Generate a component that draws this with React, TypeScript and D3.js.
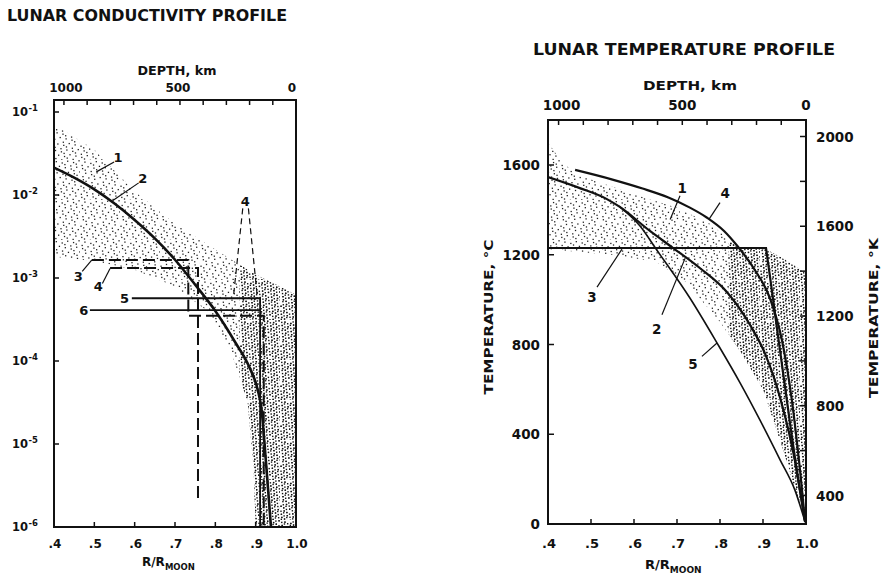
import React from 'react';
import * as d3 from 'd3';

// ---------------- data ----------------
const MOON_RADIUS_KM = 1738;
const radiusTicks = [0.4, 0.5, 0.6, 0.7, 0.8, 0.9, 1.0];
const radiusTickLabels = ['.4', '.5', '.6', '.7', '.8', '.9', '1.0'];
const depthTicks = [1000, 900, 800, 700, 600, 500, 400, 300, 200, 100, 0];
const depthLabels = [1000, 500, 0];
const conductivityDecades = [1e-1, 1e-2, 1e-3, 1e-4, 1e-5, 1e-6];
const conductivityExponents = ['-1', '-2', '-3', '-4', '-5', '-6'];
const celsiusTicks = [0, 400, 800, 1200, 1600];
const kelvinTicks = [400, 600, 800, 1000, 1200, 1400, 1600, 1800, 2000];
const kelvinLabels = [400, 800, 1200, 1600, 2000];

type P = [number, number];

// conductivity (mho/m) versus R/R_moon
const condBandUpper: P[] = [[0.4, 7.1e-2], [0.5, 3.5e-2], [0.6, 1.1e-2], [0.7, 4.5e-3], [0.8, 2.2e-3], [0.9, 1.1e-3], [0.96, 7.9e-4], [1.0, 6.3e-4]];
const condBandLower: P[] = [[0.4, 1.8e-3], [0.5, 1.6e-3], [0.6, 1.26e-3], [0.7, 7.9e-4], [0.78, 4e-4], [0.84, 1.26e-4], [0.88, 3.2e-5], [0.895, 5e-6], [0.9, 1e-6]];
const condCurve2: P[] = [[0.4, 2.14e-2], [0.45, 1.62e-2], [0.5, 1.17e-2], [0.55, 7.9e-3], [0.6, 5e-3], [0.65, 3e-3], [0.7, 1.66e-3], [0.75, 8.3e-4], [0.8, 4e-4], [0.85, 1.66e-4], [0.884, 8.5e-5], [0.905, 4.5e-5], [0.915, 2.5e-5], [0.922, 1e-5], [0.93, 3.2e-6], [0.938, 1e-6]];
const condModel3: P[] = [[0.494, 1.65e-3], [0.733, 1.65e-3], [0.733, 3.5e-4], [0.92, 3.5e-4], [0.92, 1e-6]];
const condModel4: P[] = [[0.539, 1.32e-3], [0.757, 1.32e-3], [0.757, 2.1e-6]];
const condModel5: P[] = [[0.593, 5.7e-4], [0.911, 5.7e-4], [0.911, 1e-6]];
const condModel6: P[] = [[0.489, 4.1e-4], [0.911, 4.1e-4]];

// temperature (deg C) versus R/R_moon
const tempBandUpper: P[] = [[0.4, 1700], [0.43, 1620], [0.464, 1560], [0.6, 1470], [0.7, 1410], [0.78, 1335], [0.84, 1235], [0.907, 1225], [0.95, 1180], [1.0, 1120]];
const tempBandLower: P[] = [[0.4, 1225], [0.55, 1200], [0.65, 1170], [0.72, 1080], [0.8, 900], [0.85, 760], [0.9, 600], [0.93, 430], [0.96, 250], [0.98, 120], [1.0, 60]];
const tempCurve2: P[] = [[0.4, 1546], [0.474, 1497], [0.537, 1448], [0.567, 1413], [0.637, 1306], [0.691, 1230], [0.753, 1141], [0.816, 1034], [0.87, 887], [0.905, 758], [0.94, 561], [0.974, 285], [0.998, 9]];
const tempCurve3: P[] = [[0.4, 1230], [0.907, 1230], [0.919, 1065], [0.933, 865], [0.949, 642], [0.965, 419], [0.981, 205], [0.998, 9]];
const tempCurve4: P[] = [[0.463, 1578], [0.55, 1535], [0.62, 1495], [0.68, 1455], [0.73, 1410], [0.77, 1365], [0.81, 1305], [0.84, 1240], [0.881, 1132], [0.916, 1007], [0.944, 820], [0.967, 553], [0.986, 241], [0.998, 9]];
const tempCurve5: P[] = [[0.567, 1413], [0.614, 1328], [0.653, 1221], [0.73, 1007], [0.793, 807], [0.847, 628], [0.893, 463], [0.94, 285], [0.974, 152], [0.998, 9]];

// ---------------- helpers ----------------
const FONT = '"DejaVu Sans", sans-serif';

function stippleDots(n: number, size: number): P[] {
  return d3.range(n).map((i) => [
    ((0.5 + (i + 1) * 0.7548776662) % 1) * size,
    ((0.5 + (i + 1) * 0.569840291) % 1) * size,
  ]);
}

export default function App() {
  const W = 882;
  const H = 581;

  // left panel
  const xL = d3.scaleLinear().domain([0.4, 1.0]).range([54, 296]);
  const yL = d3.scaleLog().domain([1e-6, 1e-1]).range([527, 112]);
  const dL = d3.scaleLinear().domain([MOON_RADIUS_KM * 0.6, 0]).range([54, 296]);
  const topL = 100;
  const botL = 527;

  // right panel
  const xR = d3.scaleLinear().domain([0.4, 1.0]).range([548, 806]);
  const yR = d3.scaleLinear().domain([0, 1600]).range([524, 165]);
  const dR = d3.scaleLinear().domain([MOON_RADIUS_KM * 0.6, 0]).range([548, 806]);
  const topR = 120;
  const botR = 524;

  const lineL = d3.line<P>().x((d) => xL(d[0])).y((d) => yL(d[1]));
  const curveL = d3.line<P>().x((d) => xL(d[0])).y((d) => yL(d[1])).curve(d3.curveMonotoneX);
  const lineR = d3.line<P>().x((d) => xR(d[0])).y((d) => yR(d[1]));
  const curveR = d3.line<P>().x((d) => xR(d[0])).y((d) => yR(d[1])).curve(d3.curveMonotoneX);

  const bandL: P[] = [...condBandUpper, [1.0, 1e-6], ...condBandLower.slice().reverse()];
  const bandR: P[] = [...tempBandUpper, ...tempBandLower.slice().reverse()];

  const lightDots = stippleDots(85, 40);
  const denseDots = stippleDots(190, 40);

  const ink = '#111';

  const leader = (x1: number, y1: number, x2: number, y2: number, dash?: string) => (
    <line x1={x1} y1={y1} x2={x2} y2={y2} stroke={ink} strokeWidth={1.2} strokeDasharray={dash} />
  );

  return (
    <svg width={W} height={H} style={{ position: 'absolute', left: 0, top: 0, background: '#fff' }} fontFamily={FONT}>
      <defs>
        <pattern id="stipLight" width={40} height={40} patternUnits="userSpaceOnUse">
          {lightDots.map((d, i) => (
            <rect key={i} x={d[0]} y={d[1]} width={1.3} height={1.3} fill="#222" />
          ))}
        </pattern>
        <pattern id="stipDense" width={40} height={40} patternUnits="userSpaceOnUse">
          {denseDots.map((d, i) => (
            <rect key={i} x={d[0]} y={d[1]} width={1.4} height={1.4} fill="#111" />
          ))}
        </pattern>
        <clipPath id="clipL">
          <rect x={xL(0.4)} y={topL} width={xL(1) - xL(0.4)} height={botL - topL} />
        </clipPath>
        <clipPath id="clipLDense">
          <rect x={xL(0.86)} y={topL} width={xL(1) - xL(0.86)} height={botL - topL} />
        </clipPath>
        <clipPath id="clipR">
          <rect x={xR(0.4)} y={topR} width={xR(1) - xR(0.4)} height={botR - topR} />
        </clipPath>
        <clipPath id="clipRDense">
          <rect x={xR(0.82)} y={topR} width={xR(1) - xR(0.82)} height={botR - topR} />
        </clipPath>
      </defs>

      {/* ================= LEFT PANEL ================= */}
      <text x={7} y={21} fontSize={15.5} fontWeight="bold" fill={ink} textLength={280} lengthAdjust="spacingAndGlyphs">
        LUNAR CONDUCTIVITY PROFILE
      </text>

      <g clipPath="url(#clipL)">
        <path d={lineL(bandL) || ''} fill="url(#stipLight)" />
        <g clipPath="url(#clipLDense)">
          <path d={lineL(bandL) || ''} fill="url(#stipDense)" />
        </g>
      </g>

      <rect x={xL(0.4)} y={topL} width={xL(1) - xL(0.4)} height={botL - topL} fill="none" stroke={ink} strokeWidth={2} />

      {/* top depth axis */}
      <text x={177} y={75} fontSize={11.5} fontWeight="bold" textAnchor="middle" fill={ink} textLength={79} lengthAdjust="spacingAndGlyphs">DEPTH, km</text>
      {depthTicks.map((d) => (
        <line key={d} x1={dL(d)} x2={dL(d)} y1={topL} y2={topL + 5} stroke={ink} strokeWidth={1.5} />
      ))}
      {depthLabels.map((d) => (
        <text key={d} x={dL(d) + (d === 0 ? -4 : d === 1000 ? 2 : -2)} y={92} fontSize={12} fontWeight="bold" textAnchor="middle" fill={ink}>{d}</text>
      ))}

      {/* left log axis */}
      {conductivityDecades.map((v, i) => (
        <g key={v}>
          <line x1={xL(0.4)} x2={xL(0.4) + 5} y1={yL(v)} y2={yL(v)} stroke={ink} strokeWidth={1.5} />
          <text x={28} y={yL(v) + 4} fontSize={11.5} fontWeight="bold" textAnchor="end" fill={ink}>10</text>
          <text x={28.5} y={yL(v) - 1} fontSize={8.5} fontWeight="bold" textAnchor="start" fill={ink}>{conductivityExponents[i]}</text>
        </g>
      ))}

      {/* bottom axis */}
      {radiusTicks.slice(1, -1).map((r) => (
        <line key={r} x1={xL(r)} x2={xL(r)} y1={botL} y2={botL - 5} stroke={ink} strokeWidth={1.5} />
      ))}
      {radiusTicks.map((r, i) => (
        <text key={r} x={xL(r) + 1} y={548} fontSize={12} fontWeight="bold" textAnchor="middle" fill={ink}>{radiusTickLabels[i]}</text>
      ))}
      <text x={142} y={566} fontSize={12} fontWeight="bold" fill={ink}>
        R/R<tspan fontSize={8.5} dy={4}>MOON</tspan>
      </text>

      {/* curves */}
      <g clipPath="url(#clipL)" fill="none" stroke={ink}>
        <path d={lineL(condModel6) || ''} strokeWidth={1.8} />
        <path d={lineL(condModel5) || ''} strokeWidth={1.8} />
        <path d={lineL(condModel3) || ''} strokeWidth={2} strokeDasharray="12,5" />
        <path d={lineL(condModel4) || ''} strokeWidth={2} strokeDasharray="12,5" />
        <path d={curveL(condCurve2) || ''} strokeWidth={2.6} />
      </g>

      {/* labels */}
      <g fontSize={13} fontWeight="bold" fill={ink}>
        <text x={xL(0.559)} y={yL(2.9e-2) + 5} textAnchor="middle">1</text>
        {leader(xL(0.549), yL(2.5e-2), xL(0.505), yL(1.9e-2))}
        <text x={xL(0.62)} y={yL(1.6e-2) + 5} textAnchor="middle">2</text>
        {leader(xL(0.61), yL(1.4e-2), xL(0.545), yL(8.5e-3))}
        <text x={xL(0.46)} y={yL(1.05e-3) + 5} textAnchor="middle">3</text>
        {leader(xL(0.47), yL(1.2e-3), xL(0.494), yL(1.65e-3))}
        <text x={xL(0.51)} y={yL(7.9e-4) + 5} textAnchor="middle">4</text>
        {leader(xL(0.52), yL(8.6e-4), xL(0.539), yL(1.3e-3))}
        <text x={xL(0.575)} y={yL(5.7e-4) + 5} textAnchor="middle">5</text>
        <text x={xL(0.474)} y={yL(4.1e-4) + 5} textAnchor="middle">6</text>
        <text x={xL(0.874)} y={yL(8.5e-3) + 5} textAnchor="middle">4</text>
        {leader(xL(0.868), yL(6.9e-3), xL(0.845), yL(6e-4), '6,4')}
        {leader(xL(0.882), yL(6.9e-3), xL(0.904), yL(6e-4), '6,4')}
      </g>

      {/* ================= RIGHT PANEL ================= */}
      <text x={533} y={55} fontSize={15.5} fontWeight="bold" fill={ink} textLength={302} lengthAdjust="spacingAndGlyphs">
        LUNAR TEMPERATURE PROFILE
      </text>

      <g clipPath="url(#clipR)">
        <path d={lineR(bandR) || ''} fill="url(#stipLight)" />
        <g clipPath="url(#clipRDense)">
          <path d={lineR(bandR) || ''} fill="url(#stipDense)" />
        </g>
      </g>

      <rect x={xR(0.4)} y={topR} width={xR(1) - xR(0.4)} height={botR - topR} fill="none" stroke={ink} strokeWidth={2} />

      {/* top depth axis */}
      <text x={690} y={90} fontSize={13} fontWeight="bold" textAnchor="middle" fill={ink} textLength={94} lengthAdjust="spacingAndGlyphs">DEPTH, km</text>
      {depthTicks.map((d) => (
        <line key={d} x1={dR(d)} x2={dR(d)} y1={topR} y2={topR + 5} stroke={ink} strokeWidth={1.5} />
      ))}
      {depthLabels.map((d) => (
        <text key={d} x={dR(d) + (d === 1000 ? 3 : 0)} y={110} fontSize={13.5} fontWeight="bold" textAnchor="middle" fill={ink}>{d}</text>
      ))}

      {/* left celsius axis */}
      {celsiusTicks.map((v) => (
        <g key={v}>
          <line x1={xR(0.4)} x2={xR(0.4) + 6} y1={yR(v)} y2={yR(v)} stroke={ink} strokeWidth={1.5} />
          <text x={540} y={yR(v) + 5} fontSize={13.5} fontWeight="bold" textAnchor="end" fill={ink}>{v}</text>
        </g>
      ))}
      <text transform={`translate(493,317) rotate(-90)`} fontSize={13} fontWeight="bold" textAnchor="middle" fill={ink} textLength={155} lengthAdjust="spacingAndGlyphs">
        TEMPERATURE, °C
      </text>

      {/* right kelvin axis */}
      {kelvinTicks.map((k) => (
        <line key={k} x1={xR(1)} x2={xR(1) - 6} y1={yR(k - 273)} y2={yR(k - 273)} stroke={ink} strokeWidth={1.5} />
      ))}
      {kelvinLabels.map((k) => (
        <text key={k} x={816} y={yR(k - 273) + 5} fontSize={13.5} fontWeight="bold" textAnchor="start" fill={ink}>{k}</text>
      ))}
      <text transform={`translate(878,318) rotate(-90)`} fontSize={12} fontWeight="bold" textAnchor="middle" fill={ink} textLength={160} lengthAdjust="spacingAndGlyphs">
        TEMPERATURE, °K
      </text>

      {/* bottom axis */}
      {radiusTicks.slice(1, -1).map((r) => (
        <line key={r} x1={xR(r)} x2={xR(r)} y1={botR} y2={botR - 5} stroke={ink} strokeWidth={1.5} />
      ))}
      {radiusTicks.map((r, i) => (
        <text key={r} x={xR(r) + 1} y={548} fontSize={13} fontWeight="bold" textAnchor="middle" fill={ink}>{radiusTickLabels[i]}</text>
      ))}
      <text x={645} y={569} fontSize={13} fontWeight="bold" fill={ink}>
        R/R<tspan fontSize={9} dy={4}>MOON</tspan>
      </text>

      {/* curves */}
      <g clipPath="url(#clipR)" fill="none" stroke={ink}>
        <path d={lineR(tempCurve3) || ''} strokeWidth={2.2} />
        <path d={curveR(tempCurve5) || ''} strokeWidth={1.6} />
        <path d={curveR(tempCurve2) || ''} strokeWidth={2.2} />
        <path d={curveR(tempCurve4) || ''} strokeWidth={2.2} />
      </g>

      <g fontSize={13.5} fontWeight="bold" fill={ink}>
        <text x={xR(0.712)} y={yR(1498) + 5} textAnchor="middle">1</text>
        {leader(xR(0.707), yR(1463), xR(0.684), yR(1357))}
        <text x={xR(0.812)} y={yR(1476) + 5} textAnchor="middle">4</text>
        {leader(xR(0.8), yR(1432), xR(0.775), yR(1360))}
        <text x={xR(0.502)} y={yR(1012) + 5} textAnchor="middle">3</text>
        {leader(xR(0.514), yR(1056), xR(0.572), yR(1225))}
        <text x={xR(0.653)} y={yR(871) + 5} textAnchor="middle">2</text>
        {leader(xR(0.665), yR(933), xR(0.719), yR(1185))}
        <text x={xR(0.737)} y={yR(712) + 5} textAnchor="middle">5</text>
        {leader(xR(0.758), yR(747), xR(0.793), yR(807))}
      </g>
    </svg>
  );
}
